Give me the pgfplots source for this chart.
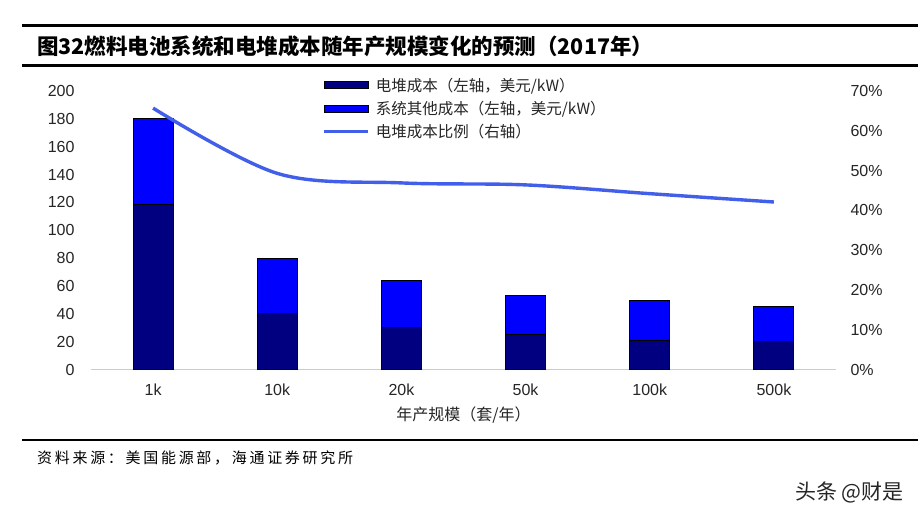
\documentclass[border=0pt]{standalone}
\usepackage{pgfplots}
\pgfplotsset{compat=1.18}
\usepackage{fontspec}
\setmainfont{Liberation Sans}
\newfontfamily\cjk{Noto Sans CJK SC}
\definecolor{stackc}{RGB}{0,0,128}
\definecolor{otherc}{RGB}{0,0,255}
\definecolor{linec}{RGB}{65,95,232}
\begin{document}
\begin{tikzpicture}
\path[use as bounding box, fill=white] (0,0) rectangle (918pt,-518pt);
% frame lines
\draw[line width=3pt] (22pt,-26pt) -- (918pt,-26pt);
\draw[line width=3pt] (22pt,-66pt) -- (918pt,-66pt);
\draw[line width=2.5pt] (22pt,-440pt) -- (918pt,-440pt);
\node[anchor=west, inner sep=0pt, font=\cjk\bfseries\fontsize{21.5}{24}\selectfont] at (37pt,-46pt) {图32燃料电池系统和电堆成本随年产规模变化的预测（2017年）};
\node[anchor=west, inner sep=0pt, font=\cjk\fontsize{15}{18}\selectfont\addfontfeatures{LetterSpace=18}] at (37pt,-458pt) {资料来源：美国能源部，海通证券研究所};
\node[anchor=east, inner sep=0pt, text=black!85, font=\cjk\fontsize{21}{24}\selectfont] at (904pt,-492pt) {头条 @财是};

\begin{axis}[
  at={(91pt,-369.5pt)}, anchor=south west,
  scale only axis, width=745pt, height=278.5pt,
  ybar stacked, bar width=40pt,
  xmin=-0.5, xmax=5.5, ymin=0, ymax=200,
  xtick={0,1,2,3,4,5},
  xticklabels={1k,10k,20k,50k,100k,500k},
  ytick={0,20,...,200},
  axis x line*=bottom, axis y line*=left,
  x axis line style={draw=black!20, line width=1.3pt, -},
  y axis line style={draw=none},
  major tick length=0pt,
  tick style={draw=none},
  /pgf/number format/assume math mode=true,
  tick label style={font=\fontsize{16}{18}\selectfont, text=black!85},
  yticklabel style={xshift=-13pt},
  xticklabel style={yshift=-11pt},
  xlabel={\cjk 年产规模（套/年）},
  xlabel style={font=\cjk\fontsize{16}{18}\selectfont, text=black!85, yshift=-4pt},
]
\addplot[draw=black, line width=1pt, fill=stackc] coordinates {(0,118.5) (1,40) (2,30) (3,25) (4,21) (5,20)};
\addplot[draw=black, line width=1pt, fill=otherc] coordinates {(0,61.5) (1,40) (2,34) (3,28.5) (4,28.5) (5,25)};
\end{axis}

\begin{axis}[
  at={(91pt,-369.5pt)}, anchor=south west,
  scale only axis, width=745pt, height=278.5pt,
  xmin=-0.5, xmax=5.5, ymin=0, ymax=70,
  ytick={0,10,...,70},
  yticklabel={\pgfmathprintnumber{\tick}\%},
  axis y line*=right, hide x axis,
  y axis line style={draw=none},
  major tick length=0pt,
  tick style={draw=none},
  /pgf/number format/assume math mode=true,
  tick label style={font=\fontsize{16}{18}\selectfont, text=black!85},
  yticklabel style={xshift=11pt},
  legend style={at={(axis description cs:0.311,1.055)}, anchor=north west, draw=none, fill=none,
    font=\cjk\fontsize{15.5}{18}\selectfont, text=black!85, inner sep=0pt,
    row sep=4.5pt, cells={anchor=west}, nodes={inner xsep=6pt}},
  legend cell align=left,
]
\addlegendimage{legend image code/.code={\draw[draw=black, line width=0.8pt, fill=stackc] (0pt,-3.5pt) rectangle (44pt,3.5pt);}}
\addlegendentry{电堆成本（左轴，美元/kW）}
\addlegendimage{legend image code/.code={\draw[draw=black, line width=0.8pt, fill=otherc] (0pt,-3.5pt) rectangle (44pt,3.5pt);}}
\addlegendentry{系统其他成本（左轴，美元/kW）}
\addplot[color=linec, line width=3.4pt, smooth, tension=0.55, no marks,
  legend image code/.code={\draw[color=linec, line width=3pt] (0pt,0pt) -- (44pt,0pt);}]
  coordinates {(0,65.7) (1,49.3) (2,46.9) (3,46.4) (4,44.2) (5,42.1)};
\addlegendentry{电堆成本比例（右轴）}
\end{axis}
\end{tikzpicture}
\end{document}
